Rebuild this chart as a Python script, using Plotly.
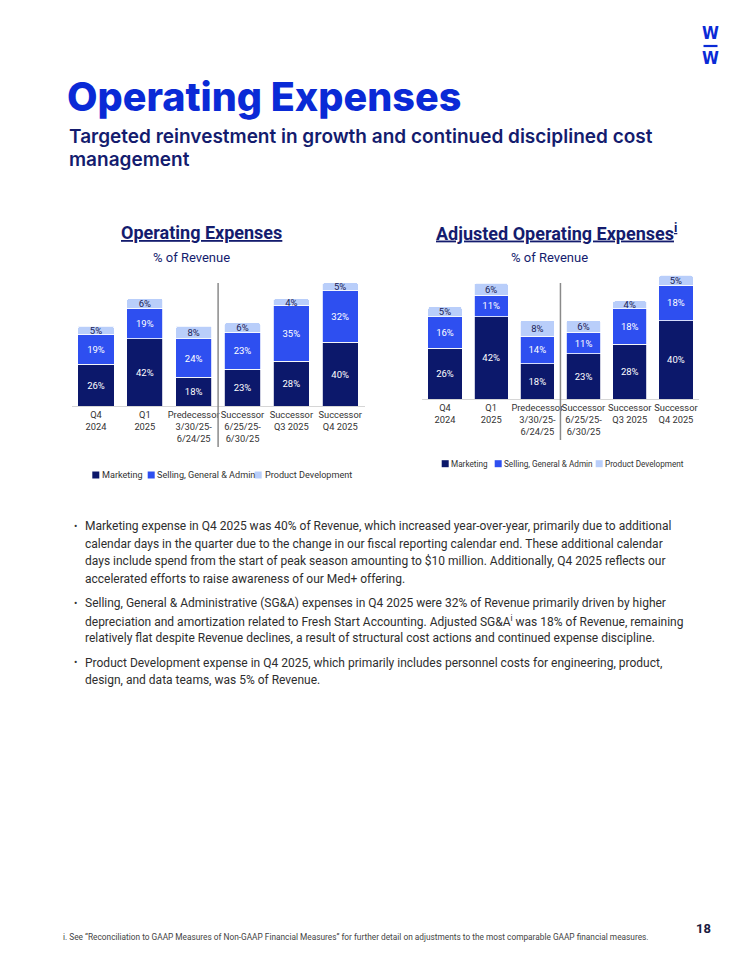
import plotly.graph_objects as go

# The page body has an 8px margin, so the figure is laid out in
# reference-page pixels shifted by that offset.
OFF = 8
W, H = 742 - OFF, 960 - OFF


def px(x):
    return (x - OFF) / W


def py(y):
    return 1 - (y - OFF) / H


# ---------------- data ----------------
categories = [
    "Q4<br>2024",
    "Q1<br>2025",
    "Predecessor<br>3/30/25-<br>6/24/25",
    "Successor<br>6/25/25-<br>6/30/25",
    "Successor<br>Q3 2025",
    "Successor<br>Q4 2025",
]
series_names = ["Marketing", "Selling, General & Admin", "Product Development"]

opex_marketing = [26, 42, 18, 23, 28, 40]
opex_sga = [19, 19, 24, 23, 35, 32]
opex_pd = [5, 6, 8, 6, 4, 5]

adj_marketing = [26, 42, 18, 23, 28, 40]
adj_sga = [16, 11, 14, 11, 18, 18]
adj_pd = [5, 6, 8, 6, 4, 5]

bullet_paragraphs = [
    [
        "Marketing expense in Q4 2025 was 40% of Revenue, which increased year-over-year, primarily due to additional",
        "calendar days in the quarter due to the change in our fiscal reporting calendar end. These additional calendar",
        "days include spend from the start of peak season amounting to $10 million. Additionally, Q4 2025 reflects our",
        "accelerated efforts to raise awareness of our Med+ offering.",
    ],
    [
        "Selling, General & Administrative (SG&A) expenses in Q4 2025 were 32% of Revenue primarily driven by higher",
        "depreciation and amortization related to Fresh Start Accounting. Adjusted SG&A<sup>i</sup> was 18% of Revenue, remaining",
        "relatively flat despite Revenue declines, a result of structural cost actions and continued expense discipline.",
    ],
    [
        "Product Development expense in Q4 2025, which primarily includes personnel costs for engineering, product,",
        "design, and data teams, was 5% of Revenue.",
    ],
]

# ---------------- styles ----------------
C_MKT = "#0c186b"
C_SGA = "#2e4ff0"
C_PD = "#b9cefa"
TXT_ON = ["white", "white", "#1b2256"]
NAVY = "#141c6e"
TITLE_BLUE = "#0a2ad6"
BODY = "Roboto"
colors = [C_MKT, C_SGA, C_PD]

fig = go.Figure()

for (xa, ya, vals) in [
    ("x", "y", [opex_marketing, opex_sga, opex_pd]),
    ("x2", "y2", [adj_marketing, adj_sga, adj_pd]),
]:
    for i, v in enumerate(vals):
        fig.add_trace(
            go.Bar(
                x=categories,
                y=v,
                name=series_names[i],
                xaxis=xa,
                yaxis=ya,
                marker=dict(color=colors[i], line=dict(color="white", width=0.8)),
                text=[f"{a}%" for a in v],
                textposition="inside",
                insidetextanchor="middle",
                textangle=0,
                textfont=dict(family=BODY, size=9.5, color=TXT_ON[i]),
                cliponaxis=False,
                showlegend=False,
                hoverinfo="skip",
            )
        )

axis_common = dict(
    showline=True,
    linecolor="#d6d6d6",
    linewidth=1,
    ticks="",
    tickangle=0,
    showgrid=False,
    zeroline=False,
    tickfont=dict(family=BODY, size=9.3, color="#333333"),
    fixedrange=True,
)

fig.update_layout(
    width=W,
    height=H,
    margin=dict(l=0, r=0, t=0, b=0),
    paper_bgcolor="white",
    plot_bgcolor="white",
    barmode="stack",
    bargap=0.26,
    barcornerradius=2,
    uniformtext=dict(minsize=9.5, mode="show"),
    showlegend=False,
    xaxis=dict(domain=[px(71.6), px(364.6)], anchor="y", **axis_common),
    yaxis=dict(domain=[py(406), py(270)], range=[0, 85], visible=False, fixedrange=True),
    xaxis2=dict(domain=[px(421.9), px(699)], anchor="y2", **axis_common),
    yaxis2=dict(domain=[py(399), py(270)], range=[0, 65.8], visible=False, fixedrange=True),
)

shapes = []
# period dividers
shapes.append(dict(type="line", xref="x", yref="paper", x0=2.5, x1=2.5, y0=py(447), y1=py(283),
                   line=dict(color="#8a8a8a", width=1.5)))
shapes.append(dict(type="line", xref="x2", yref="paper", x0=2.5, x1=2.5, y0=py(440), y1=py(283),
                   line=dict(color="#8a8a8a", width=1.5)))

annotations = []


def note(x, y, text, size, color, family=BODY, xanchor="left", weight=None, **kw):
    f = dict(family=family, size=size, color=color)
    if weight is not None:
        f["weight"] = weight
    f.update(kw.pop("fontextra", {}))
    annotations.append(dict(
        x=px(x), y=py(y), xref="paper", yref="paper", text=text, showarrow=False,
        xanchor=xanchor, yanchor="middle", font=f, borderpad=0, align="left", **kw))


# legends
legend_sets = [
    (475, [92.3, 147.7, 254.7], [100.7, 156.3, 263.7], 9.1),
    (463.7, [441.7, 494.7, 595.7], [450, 502.7, 604.3], 8.2),
]
for yc, sq_x, tx_x, fs in legend_sets:
    for i in range(3):
        shapes.append(dict(type="rect", xref="paper", yref="paper",
                           x0=px(sq_x[i]), x1=px(sq_x[i] + 7), y0=py(yc + 3.5), y1=py(yc - 3.5),
                           fillcolor=colors[i], line=dict(width=0)))
        note(tx_x[i], yc, series_names[i], fs, "#333333")

# header
note(66, 97, "Operating Expenses", 39.5, TITLE_BLUE, family="Inter", weight=800)
note(68, 137, "Targeted reinvestment in growth and continued disciplined cost", 19, NAVY,
     family="Inter", weight=600)
note(68, 159, "management", 19, NAVY, family="Inter", weight=600)

# logo
LOGO_FONT = "Liberation Sans Narrow, DejaVu Sans Condensed, Roboto Condensed, Roboto"
note(710.5, 33, "W", 17, TITLE_BLUE, family=LOGO_FONT, xanchor="center", weight="bold")
note(710.5, 58, "W", 17, TITLE_BLUE, family=LOGO_FONT, xanchor="center", weight="bold")
shapes.append(dict(type="line", xref="paper", yref="paper", x0=px(703.5), x1=px(717.5),
                   y0=py(46), y1=py(46), line=dict(color=TITLE_BLUE, width=2.2)))

# chart titles
note(201.5, 232, "Operating Expenses", 18, NAVY, xanchor="center", weight="bold",
     fontextra=dict(lineposition="under"))
note(556, 232, "Adjusted Operating Expenses<sup>i</sup>", 18, NAVY, xanchor="center", weight="bold",
     fontextra=dict(lineposition="under"))
note(191.5, 257.5, "% of Revenue", 13, NAVY, xanchor="center")
note(549, 257.5, "% of Revenue", 13, NAVY, xanchor="center")

# bullets
y = 526
for para in bullet_paragraphs:
    note(73, y, "•", 10, "#333333")
    for line in para:
        note(84, y, line, 12, "#2e2e2e")
        y += 17.5
    y += 7

# footer
note(62, 937, "i. See “Reconciliation to GAAP Measures of Non-GAAP Financial Measures” for further detail on adjustments to the most comparable GAAP financial measures.",
     8.3, "#444444")
note(712, 928, "18", 13, "#1a1a40", xanchor="right", weight="bold")

fig.update_layout(shapes=shapes, annotations=annotations)
fig.write_html("out.html")
